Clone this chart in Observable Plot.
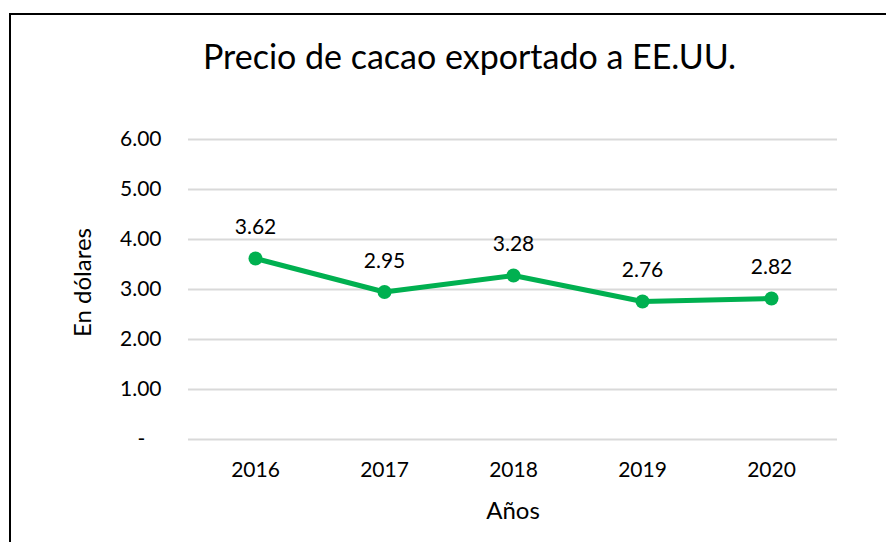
<!DOCTYPE html>
<html><head><meta charset="utf-8">
<script src="https://cdn.jsdelivr.net/npm/d3@7"></script>
<script src="https://cdn.jsdelivr.net/npm/@observablehq/plot@0.6"></script>
<style>
html,body{margin:0;padding:0;background:#fff;}
#wrap{position:relative;width:886px;height:542px;overflow:hidden;font-family:Lato,"Open Sans",sans-serif;}
#frame{position:absolute;left:9px;top:13px;width:900px;height:600px;border-left:2px solid #000;border-top:2px solid #000;}
#title{position:absolute;left:0;width:939px;top:35px;text-align:center;font-size:34px;color:#000;white-space:nowrap;}
#chart{position:absolute;left:0;top:0;}
</style></head>
<body><div id="wrap"><div id="frame"></div><div id="title">Precio de cacao exportado a EE.UU.</div><div id="chart"></div></div>
<script>
const years = ["2016","2017","2018","2019","2020"];
const prices = [3.62, 2.95, 3.28, 2.76, 2.82];
const yTicks = [0,1,2,3,4,5,6];
const yTitle = "En dólares";
const xTitle = "Años";

const data = years.map((y,i)=>({year:y, price:prices[i]}));
const green = "#00B050";
const fmt = v => v === 0 ? "-\u00a0\u00a0\u00a0" : v.toFixed(2);

const chart = Plot.plot({
  width: 886, height: 542,
  marginLeft: 188, marginRight: 49, marginTop: 139, marginBottom: 103,
  style: {fontFamily: "Lato, 'Open Sans', sans-serif", fontSize: "21px", color: "#000", background: "transparent"},
  x: {type: "point", domain: years, padding: 0.5, label: null},
  y: {domain: [0,6], label: null},
  marks: [
    Plot.gridY(yTicks, {stroke: "#d9d9d9", strokeOpacity: 1, strokeWidth: 2}),
    Plot.axisY(yTicks, {tickSize: 0, tickPadding: 27, tickFormat: fmt, fontSize: 21, label: null}),
    Plot.axisX({tickSize: 0, tickPadding: 23, fontSize: 21, label: null}),
    Plot.line(data, {x: "year", y: "price", stroke: green, strokeWidth: 5}),
    Plot.dot(data, {x: "year", y: "price", fill: green, r: 7}),
    Plot.text(data, {x: "year", y: "price", text: d => d.price.toFixed(2), dy: -31, fontSize: 21, fill: "#000"}),
    Plot.text([yTitle], {frameAnchor: "left", textAnchor: "middle", lineAnchor: "middle", dx: -105, dy: -7, rotate: -90, fontSize: 24, fill: "#000"}),
    Plot.text([xTitle], {frameAnchor: "bottom", textAnchor: "middle", lineAnchor: "middle", dx: 0, dy: 72, fontSize: 24, fill: "#000"})
  ]
});
document.getElementById("chart").appendChild(chart);
</script></body></html>
